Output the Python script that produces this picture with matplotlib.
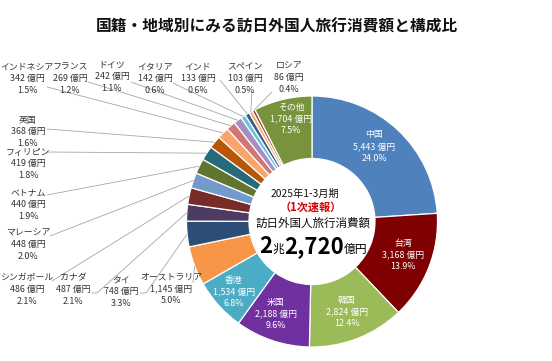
import matplotlib
matplotlib.use("Agg")
import matplotlib.pyplot as plt
import numpy as np

plt.rcParams['font.family'] = ['Noto Sans CJK JP', 'DejaVu Sans']

# ---------------- data ----------------
countries = ['中国', '台湾', '韓国', '米国', '香港', 'オーストラリア', 'タイ', 'カナダ',
             'シンガポール', 'マレーシア', 'ベトナム', 'フィリピン', '英国', 'インドネシア',
             'フランス', 'ドイツ', 'イタリア', 'インド', 'スペイン', 'ロシア', 'その他']
amounts = [5443, 3168, 2824, 2188, 1534, 1145, 748, 487, 486, 448, 440, 419, 368, 342,
           269, 242, 142, 133, 103, 86, 1704]
shares = ['24.0%', '13.9%', '12.4%', '9.6%', '6.8%', '5.0%', '3.3%', '2.1%', '2.1%', '2.0%',
          '1.9%', '1.8%', '1.6%', '1.5%', '1.2%', '1.1%', '0.6%', '0.6%', '0.5%', '0.4%', '7.5%']
title = '国籍・地域別にみる訪日外国人旅行消費額と構成比'
period = '2025年1-3月期'
flash = '（1次速報）'
total_label = '訪日外国人旅行消費額'
total_parts = ['2', '兆', '2,720', '億円']

# ---------------- styles ----------------
colors = ['#4F81BD', '#7F0000', '#9BBB59', '#7030A0', '#4BACC6', '#F79646', '#2C4D75',
          '#4D3B62', '#772C2A', '#729ACA', '#5F7530', '#276A7C', '#B65708', '#F9A46B',
          '#D27573', '#A28FC3', '#6CC4DA', '#3A5E8C', '#F9A962', '#9E3634', '#77933C']

CX, CY, R, RIN = 312.0, 221.5, 125.5, 63.0

# label layout (pixel coords): inside labels and outside labels
inside_pos = {'中国': (374, 135), '台湾': (403, 243), '韓国': (347, 300), '米国': (276, 302),
              '香港': (234, 280), 'その他': (291, 107)}
outside_pos = {'インドネシア': (27, 67), 'フランス': (70, 67), 'ドイツ': (112, 65),
               'イタリア': (155, 67), 'インド': (198, 67), 'スペイン': (245, 67),
               'ロシア': (289, 66), '英国': (28, 120), 'フィリピン': (28, 152),
               'ベトナム': (28, 193), 'マレーシア': (28, 233), 'シンガポール': (27, 278),
               'カナダ': (73, 278), 'タイ': (121, 280), 'オーストラリア': (171, 277)}
leader_start = {'インドネシア': [(47, 87)], 'フランス': [(88, 82)], 'ドイツ': [(131, 82)],
                'イタリア': [(173, 83)], 'インド': [(220, 80)], 'スペイン': [(252, 91)],
                'ロシア': [(272, 92)], '英国': [(47, 129)], 'フィリピン': [(47, 152)],
                'ベトナム': [(47, 195)], 'マレーシア': [(50, 236)], 'シンガポール': [(52, 281)],
                'カナダ': [(92, 293), (97, 293)], 'タイ': [(140, 293), (146, 293)],
                'オーストラリア': [(193, 283)]}

fig = plt.figure(figsize=(5.52, 3.61), dpi=100)
ax = fig.add_axes([0, 0, 1, 1])

wedges, _ = ax.pie(amounts, colors=colors, startangle=-90, counterclock=True,
                   center=(CX, CY), radius=R,
                   wedgeprops=dict(width=R - RIN, edgecolor='white', linewidth=0.9))
ax.set_xlim(0, 552)
ax.set_ylim(361, 0)
ax.set_aspect('equal')
ax.axis('off')

LFS = 6.4
PITCH = 11.7


def three_lines(x, y, lines, color, fs=LFS):
    for i, t in enumerate(lines):
        ax.text(x, y + i * PITCH, t, ha='center', va='center', fontsize=fs, color=color)


total = sum(amounts)
cum = np.cumsum([0] + amounts)
for i, name in enumerate(countries):
    lines = [name, f'{amounts[i]:,} 億円', shares[i]]
    if name in inside_pos:
        x, y = inside_pos[name]
        three_lines(x, y, lines, 'white')
    else:
        x, y = outside_pos[name]
        three_lines(x, y, lines, '#333333')
        mid = (cum[i] + cum[i + 1]) / 2 / total * 2 * np.pi
        ex = CX + R * np.sin(mid)
        ey = CY - R * np.cos(mid)
        pts = leader_start[name] + [(ex, ey)]
        ax.plot([p[0] for p in pts], [p[1] for p in pts], color='#A6A6A6', lw=0.6,
                solid_capstyle='butt', zorder=1)

# title
ax.text(277, 27, title, ha='center', va='center', fontsize=11.3, fontweight='bold',
        color='#111111')

# center texts
ax.text(305, 194, period, ha='center', va='center', fontsize=7.4, color='#111111')
ax.text(311, 207, flash, ha='center', va='center', fontsize=8, fontweight='bold',
        color='#D40000')
ax.text(313, 223, total_label, ha='center', va='center', fontsize=8.3, color='#111111')

sizes = [16, 8.5, 16, 8.5]
weights = ['bold', 'normal', 'bold', 'normal']
fig.canvas.draw()
renderer = fig.canvas.get_renderer()
texts = []
xcur = 0.0
for t, s, w in zip(total_parts, sizes, weights):
    tx = ax.text(xcur, 253, t, ha='left', va='baseline', fontsize=s, fontweight=w,
                 color='#000000')
    bb = tx.get_window_extent(renderer)
    texts.append((tx, bb.width))
    xcur += bb.width
start = 313 - xcur / 2
xpos = start
for tx, wdt in texts:
    tx.set_x(xpos)
    xpos += wdt

fig.savefig('out.png', dpi=100)
